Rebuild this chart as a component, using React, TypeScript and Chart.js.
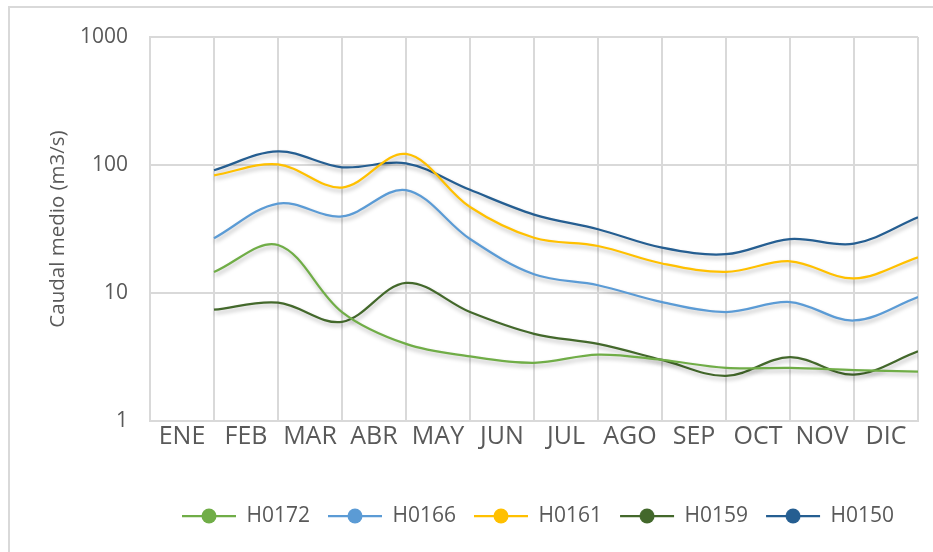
import React, { useEffect, useRef } from 'react';
import { Chart, registerables } from 'chart.js';

Chart.register(...registerables);

const MONTHS = ['ENE', 'FEB', 'MAR', 'ABR', 'MAY', 'JUN', 'JUL', 'AGO', 'SEP', 'OCT', 'NOV', 'DIC'];
const H0172 = [14.6, 23.7, 7.1, 4.0, 3.2, 2.85, 3.3, 3.0, 2.6, 2.6, 2.5, 2.43];
const H0166 = [26.8, 50, 39.7, 63.6, 26.4, 14.0, 11.5, 8.5, 7.1, 8.5, 6.1, 9.3];
const H0161 = [83, 101, 66.7, 122, 47, 27, 23.3, 17, 14.6, 17.7, 13, 19];
const H0159 = [7.4, 8.4, 5.95, 12.0, 7.1, 4.8, 4.0, 3.0, 2.25, 3.15, 2.3, 3.5];
const H0150 = [91, 128, 96, 103, 64, 41, 31.5, 22.6, 20.1, 26.4, 24.3, 39];
const Y_TICKS = [1, 10, 100, 1000];

const SERIES = [
  { name: 'H0172', values: H0172, color: '#70AD47' },
  { name: 'H0166', values: H0166, color: '#5B9BD5' },
  { name: 'H0161', values: H0161, color: '#FFC000' },
  { name: 'H0159', values: H0159, color: '#43682B' },
  { name: 'H0150', values: H0150, color: '#255E91' },
];

const FONT = '"Open Sans", "Liberation Sans", sans-serif';
const TEXT = '#595959';
const GRID = '#d9d9d9';

function legendImage(color: string): HTMLCanvasElement {
  const c = document.createElement('canvas');
  c.width = 66;
  c.height = 22;
  const g = c.getContext('2d') as CanvasRenderingContext2D;
  g.strokeStyle = color;
  g.lineWidth = 2.25;
  g.beginPath();
  g.moveTo(10, 11);
  g.lineTo(64, 11);
  g.stroke();
  g.fillStyle = color;
  g.beginPath();
  g.arc(37, 11, 7.5, 0, Math.PI * 2);
  g.fill();
  return c;
}

const shadowPlugin = {
  id: 'lineShadow',
  beforeDatasetDraw(chart: any) {
    const c = chart.ctx;
    c.save();
    c.shadowColor = 'rgba(0,0,0,0.28)';
    c.shadowBlur = 4;
    c.shadowOffsetX = 1;
    c.shadowOffsetY = 3;
  },
  afterDatasetDraw(chart: any) {
    chart.ctx.restore();
  },
};

export default function App() {
  const ref = useRef<HTMLCanvasElement | null>(null);

  useEffect(() => {
    if (!ref.current) return;
    const images = SERIES.map((s) => legendImage(s.color));
    const chart = new Chart(ref.current, {
      type: 'line',
      data: {
        datasets: SERIES.map((s) => ({
          label: s.name,
          data: s.values.map((v, i) => ({ x: i + 1, y: v })),
          borderColor: s.color,
          backgroundColor: s.color,
          borderWidth: 2.25,
          pointRadius: 0,
          pointHoverRadius: 0,
          tension: 0.35,
          fill: false,
          xAxisID: 'x',
          yAxisID: 'y',
        })),
      },
      options: {
        animation: false,
        responsive: false,
        devicePixelRatio: 1,
        layout: { padding: { top: 29, right: 15, bottom: 15.5, left: 0 } },
        events: [],
        scales: {
          x: { type: 'linear', min: 0, max: 12, display: false },
          xl: {
            type: 'category',
            labels: MONTHS,
            position: 'bottom',
            offset: true,
            grid: { offset: true, color: GRID, lineWidth: 2, drawTicks: false },
            border: { color: GRID, width: 2 },
            ticks: { font: { family: FONT, size: 25 }, color: TEXT, padding: 1, maxRotation: 0, autoSkip: false },
            afterFit: (s: any) => { s.height = 74.5; },
          },
          y: {
            type: 'logarithmic',
            min: 1,
            max: 1000,
            position: 'left',
            afterBuildTicks: (s: any) => { s.ticks = Y_TICKS.map((v) => ({ value: v })); },
            afterFit: (s: any) => { s.width = 140; },
            ticks: { callback: (v: any) => String(v), font: { family: FONT, size: 21 }, color: TEXT, padding: 4 },
            grid: { color: GRID, lineWidth: 2, drawTicks: true, tickLength: 18, tickColor: 'rgba(0,0,0,0)' },
            border: { color: GRID, width: 2 },
            title: { display: true, text: 'Caudal medio (m3/s)', font: { family: FONT, size: 20.5 }, color: TEXT, padding: { top: 36, bottom: 0 } },
          },
        },
        plugins: {
          tooltip: { enabled: false },
          legend: {
            position: 'bottom',
            fullSize: false,
            labels: {
              usePointStyle: true,
              pointStyleWidth: 62,
              padding: 10,
              color: TEXT,
              font: { family: FONT, size: 21 },
              generateLabels: (ch: any) => {
                const items = (Chart.defaults.plugins.legend.labels as any).generateLabels(ch);
                items.forEach((it: any) => { it.pointStyle = images[it.datasetIndex]; });
                return items;
              },
            },
          },
        },
      } as any,
      plugins: [shadowPlugin],
    });
    return () => chart.destroy();
  }, []);

  return (
    <div
      style={{
        position: 'absolute',
        left: 8,
        top: 6,
        width: 925,
        height: 546,
        borderLeft: '2px solid #d9d9d9',
        borderTop: '2px solid #d9d9d9',
        boxSizing: 'border-box',
        overflow: 'hidden',
        background: '#fff',
      }}
    >
      <canvas ref={ref} width={923} height={544} style={{ display: 'block' }} />
    </div>
  );
}
